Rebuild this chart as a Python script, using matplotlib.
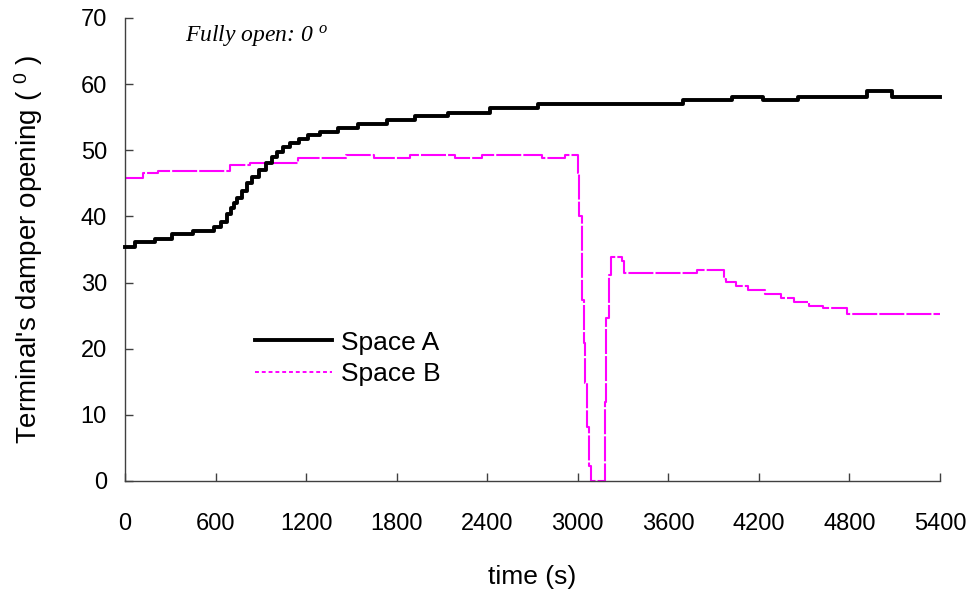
import matplotlib
matplotlib.use("Agg")
import matplotlib.pyplot as plt
from matplotlib.lines import Line2D

plt.rcParams['font.family'] = ['Liberation Sans', 'DejaVu Sans']
plt.rcParams['mathtext.fontset'] = 'custom'
plt.rcParams['mathtext.rm'] = 'Liberation Sans'
plt.rcParams['mathtext.it'] = 'Liberation Serif:italic'

# damper opening, stored as step changes (time in s, opening in degrees)
t_a = [0, 64, 197, 314, 453, 590, 634, 678, 700, 720, 744, 777, 810, 843,
       888, 932, 977, 1010, 1050, 1093, 1150, 1214, 1292, 1411, 1544, 1733,
       1922, 2140, 2419, 2737, 3698, 4020, 4228, 4461, 4915, 5081, 5400]
open_a = [35.4, 36.1, 36.6, 37.3, 37.8, 38.4, 39.2, 40.3, 41.2, 42.0, 42.8,
          43.8, 45.0, 46.0, 47.0, 48.0, 49.0, 49.8, 50.5, 51.1, 51.7, 52.3,
          52.8, 53.3, 54.0, 54.6, 55.2, 55.7, 56.4, 57.0, 57.6, 58.1, 57.6,
          58.1, 58.9, 58.1, 58.1]

t_b = [0, 120, 220, 696, 828, 1147, 1464, 1650, 1889, 2187, 2363, 2761, 2916,
       3004, 3011, 3026, 3030, 3043, 3050, 3063, 3076, 3088, 3181, 3190, 3204,
       3218, 3290, 3306, 3788, 3971, 3985, 4046, 4127, 4241, 4345, 4435, 4532,
       4627, 4782, 5400]
open_b = [45.8, 46.5, 46.9, 47.7, 48.1, 48.9, 49.3, 48.9, 49.3, 48.9, 49.3,
          48.9, 49.3, 46.5, 40.0, 33.9, 27.4, 20.8, 14.8, 8.2, 2.2, 0.0, 12.0,
          24.6, 31.1, 33.8, 33.2, 31.4, 31.9, 30.6, 30.1, 29.5, 28.9, 28.3,
          27.7, 27.1, 26.5, 26.1, 25.3, 25.3]

xticks = list(range(0, 5401, 600))
yticks = list(range(0, 71, 10))

fig = plt.figure(figsize=(9.73, 5.99), dpi=100)
ax = fig.add_axes([0.1285, 0.197, 0.8375, 0.773])

ax.plot(t_a, open_a, drawstyle='steps-post', color='black', lw=2.8,
        clip_on=False, zorder=3)
ax.plot(t_b, open_b, drawstyle='steps-post', color='#ff00ff', lw=1.5,
        ls=(0, (12, 1)), clip_on=False, zorder=2)

ax.set_xlim(0, 5400)
ax.set_ylim(0, 70)
ax.set_xticks(xticks)
ax.set_yticks(yticks)
for s in ('top', 'right'):
    ax.spines[s].set_visible(False)
for s in ('left', 'bottom'):
    ax.spines[s].set_color('#404040')
    ax.spines[s].set_linewidth(1.0)
ax.tick_params(axis='both', direction='in', length=6, width=1,
               color='#404040', labelsize=17)
ax.tick_params(axis='x', pad=23)
ax.tick_params(axis='y', pad=13)

ax.set_xlabel('time (s)', fontsize=19)
ax.set_ylabel(r"Terminal's damper opening ( $^{0}$ )", fontsize=20)
ax.xaxis.set_label_coords(0.5, -0.181)
ax.yaxis.set_label_coords(-0.098, 0.5)

fig.text(185 / 973, 1 - 41 / 599, r'Fully open: 0 $^{o}$', fontsize=17,
         family='Liberation Serif', style='italic', va='baseline')

handles = [Line2D([], [], color='black', lw=2.8),
           Line2D([], [], color='#ff00ff', lw=1.4, ls=(0, (2, 1.5)))]
ax.legend(handles, ['Space A', 'Space B'], loc='upper left',
          bbox_to_anchor=(0.16, 0.325), frameon=False, fontsize=19,
          handlelength=2.9, handletextpad=0.35, borderpad=0,
          borderaxespad=0, labelspacing=0.3)

fig.savefig('out.png', dpi=100)
